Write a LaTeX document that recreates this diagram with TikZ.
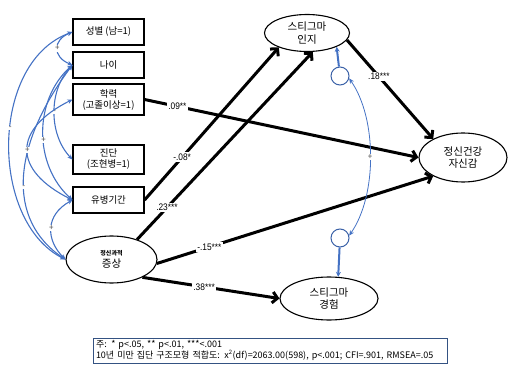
\documentclass[tikz,border=0pt]{standalone}
\usepackage{fontspec}
\setmainfont{Noto Sans CJK KR}
\newfontfamily\numfont{Liberation Sans}[FakeStretch=0.88]
\usepackage{xcolor}
\usepackage{tikz}
\usetikzlibrary{arrows.meta,shapes.geometric}
\definecolor{covblue}{RGB}{68,114,196}
\definecolor{noteframe}{RGB}{52,82,130}

\begin{document}
\begin{tikzpicture}[x=1pt,y=1pt,
  var/.style={draw,line width=1.1pt,minimum width=71pt,align=center,inner sep=1pt,font=\fontsize{9.5}{11}\selectfont},
  lat/.style={draw,line width=1.1pt,ellipse,inner sep=0pt,align=center,font=\fontsize{10.5}{12.5}\selectfont},
  err/.style={draw=covblue!85!black,line width=1pt,circle,minimum size=18pt,inner sep=0pt},
  path/.style={line width=3pt,-{Straight Barb[length=5pt,width=11pt]}},
  coef/.style={fill=white,inner sep=1.5pt,font=\numfont\fontsize{9.5}{10}\selectfont},
  cov/.style={covblue,line width=1.1pt,{Stealth[length=5pt,width=4.5pt]}-{Stealth[length=5pt,width=4.5pt]}},
  eline/.style={covblue,line width=2pt,-{Stealth[length=5pt,width=5pt]}},
  sgn/.style={fill=white,inner sep=.6pt,text=black!75,font=\fontsize{8}{8}\selectfont}]
\useasboundingbox (0,0) rectangle (510,372);
\node[var,minimum height=26pt] (sex) at (108.5,340) {성별 (남=1)};
\node[var,minimum height=26pt] (age) at (108.5,307) {나이};
\node[var,minimum height=31pt] (edu) at (108.5,272.5) {학력\\(고졸이상=1)};
\node[var,minimum height=29pt] (diag) at (108.5,212.5) {진단\\(조현병=1)};
\node[var,minimum height=26pt] (dur) at (108.5,172) {유병기간};
\node[lat,minimum width=91pt,minimum height=47pt] (sym) at (111.5,112.5) {{\fontsize{6}{8}\selectfont\bfseries 정신과적}\\증상};
\node[lat,minimum width=85pt,minimum height=37pt] (perc) at (307,339) {스티그마\\인지};
\node[lat,minimum width=88pt,minimum height=49pt] (conf) at (463,214.5) {정신건강\\자신감};
\node[lat,minimum width=98pt,minimum height=43pt] (exp) at (329,73.5) {스티그마\\경험};
\node[err] (e1) at (340,296) {};
\node[err] (e2) at (340,134) {};
\draw[path] (edu.east) -- node[coef,pos=.12]{.09**} (conf.west);
\draw[path] (dur.east) -- node[coef,pos=.28]{-.08*} (perc.207);
\draw[path] (sym.38) -- node[coef,pos=.17]{.23***} (perc.287);
\draw[path] (sym.355) -- node[coef,pos=.19]{-.15***} (conf.212);
\draw[path] (sym.330) -- node[coef,pos=.45]{.38***} (exp.west);
\draw[path] (perc.350) -- node[coef,pos=.37]{.18***} (conf.148);
\draw[eline] (e1) -- (perc.335);
\draw[eline] (e2) -- (exp.67);
\draw[cov,line width=.8pt] (e1.-15) .. controls +(28,-40) and +(28,40) .. node[sgn]{+} (e2.15);
\draw[cov] (sex.west) .. controls +(-20,-8) and +(-20,8) .. node[sgn]{+} (age.west);
\draw[cov] (sex.west) .. controls +(-83,-30) and +(-76,38) .. node[sgn,pos=.45]{-} (sym.west);
\draw[cov] (age.west) .. controls +(-24,-25) and +(-24,25) .. node[sgn]{-} (diag.west);
\draw[cov] (age.west) .. controls +(-39,-35) and +(-39,35) .. node[sgn,pos=.55]{+} (dur.west);
\draw[cov] (age.west) .. controls +(-60,-80) and +(-60,40) .. node[sgn,pos=.55]{-} (sym.west);
\draw[cov] (edu.west) .. controls +(-60,-30) and +(-60,30) .. node[sgn]{+} (dur.west);
\draw[cov] (dur.west) .. controls +(-27,-15) and +(-20,20) .. node[sgn]{+} (sym.west);
\node[draw=noteframe,line width=.9pt,align=left,text width=348pt,minimum height=25pt,inner xsep=3pt,inner ysep=1pt,font=\fontsize{9}{11}\selectfont] (note) at (270,21.5)
  {주: * p<.05, ** p<.01, ***<.001\\10년 미만 집단 구조모형 적합도: x\textsuperscript{2}(df)=2063.00(598), p<.001; CFI=.901, RMSEA=.05};
\end{tikzpicture}
\end{document}
